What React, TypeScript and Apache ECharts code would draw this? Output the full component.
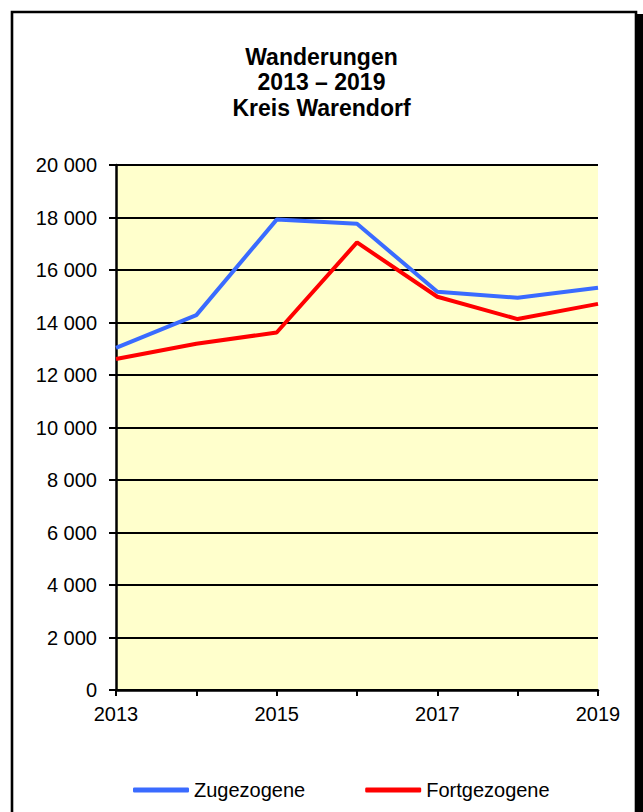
import React, { useEffect, useRef } from "react";
import * as echarts from "echarts";

const years = ["2013", "2014", "2015", "2016", "2017", "2018", "2019"];
const zugezogene = [13030, 14280, 17920, 17760, 15170, 14940, 15320];
const fortgezogene = [12610, 13190, 13620, 17050, 14980, 14130, 14710];
const titleLines = ["Wanderungen", "2013 – 2019", "Kreis Warendorf"];

const fmt = (v: number) => {
  const s = String(v);
  return s.length > 3 ? s.slice(0, s.length - 3) + " " + s.slice(-3) : s;
};

export default function App() {
  const ref = useRef<HTMLDivElement>(null);
  useEffect(() => {
    if (!ref.current) return;
    const chart = echarts.init(ref.current, null, { renderer: "svg" });
    const font = "'Liberation Sans', Arial, sans-serif";
    chart.setOption({
      animation: false,
      backgroundColor: "#ffffff",
      textStyle: { fontFamily: font },
      title: {
        text: titleLines.join("\n"),
        left: "center",
        top: 39,
        textStyle: {
          fontFamily: font,
          fontSize: 23,
          fontWeight: "bold",
          color: "#000",
          lineHeight: 25.5,
        },
      },
      graphic: [
        {
          type: "rect",
          shape: { x: 12, y: 12, width: 624, height: 820 },
          style: { fill: "none", stroke: "#000", lineWidth: 2.6 },
          z: 100,
          silent: true,
        },
        {
          type: "rect",
          shape: { x: 636, y: 14, width: 10, height: 820 },
          style: { fill: "#000" },
          z: 100,
          silent: true,
        },
      ],
      legend: {
        left: 128,
        top: 775,
        icon: "roundRect",
        itemWidth: 56,
        itemHeight: 5,
        itemGap: 60,
        textStyle: { fontFamily: font, fontSize: 20, color: "#000" },
        data: ["Zugezogene", "Fortgezogene"],
      },
      grid: {
        left: 116,
        right: 45,
        top: 165,
        bottom: 122,
        show: true,
        backgroundColor: "#FFFFCC",
        borderWidth: 0,
      },
      xAxis: {
        type: "category",
        data: years,
        boundaryGap: false,
        axisLine: { show: true, lineStyle: { color: "#000", width: 2.5 } },
        axisTick: {
          show: true,
          inside: false,
          length: 6,
          interval: 0,
          lineStyle: { color: "#000", width: 2 },
        },
        axisLabel: {
          interval: 1,
          fontFamily: font,
          fontSize: 20,
          color: "#000",
          margin: 14,
        },
        splitLine: { show: false },
      },
      yAxis: {
        type: "value",
        min: 0,
        max: 20000,
        interval: 2000,
        axisLine: { show: true, lineStyle: { color: "#000", width: 2.5 } },
        axisTick: { show: true, length: 7, lineStyle: { color: "#000", width: 2 } },
        axisLabel: {
          fontFamily: font,
          fontSize: 20,
          color: "#000",
          margin: 19,
          formatter: (v: number) => fmt(v),
        },
        splitLine: { show: true, lineStyle: { color: "#000", width: 2 } },
      },
      series: [
        {
          name: "Zugezogene",
          type: "line",
          data: zugezogene,
          symbol: "none",
          color: "#3A6BFF",
          lineStyle: { color: "#3A6BFF", width: 4 },
          z: 3,
        },
        {
          name: "Fortgezogene",
          type: "line",
          data: fortgezogene,
          symbol: "none",
          color: "#FF0000",
          lineStyle: { color: "#FF0000", width: 4 },
          z: 4,
        },
      ],
    });
    return () => chart.dispose();
  }, []);
  return (
    <div
      ref={ref}
      style={{ position: "absolute", left: 0, top: 0, width: 643, height: 812 }}
    />
  );
}
